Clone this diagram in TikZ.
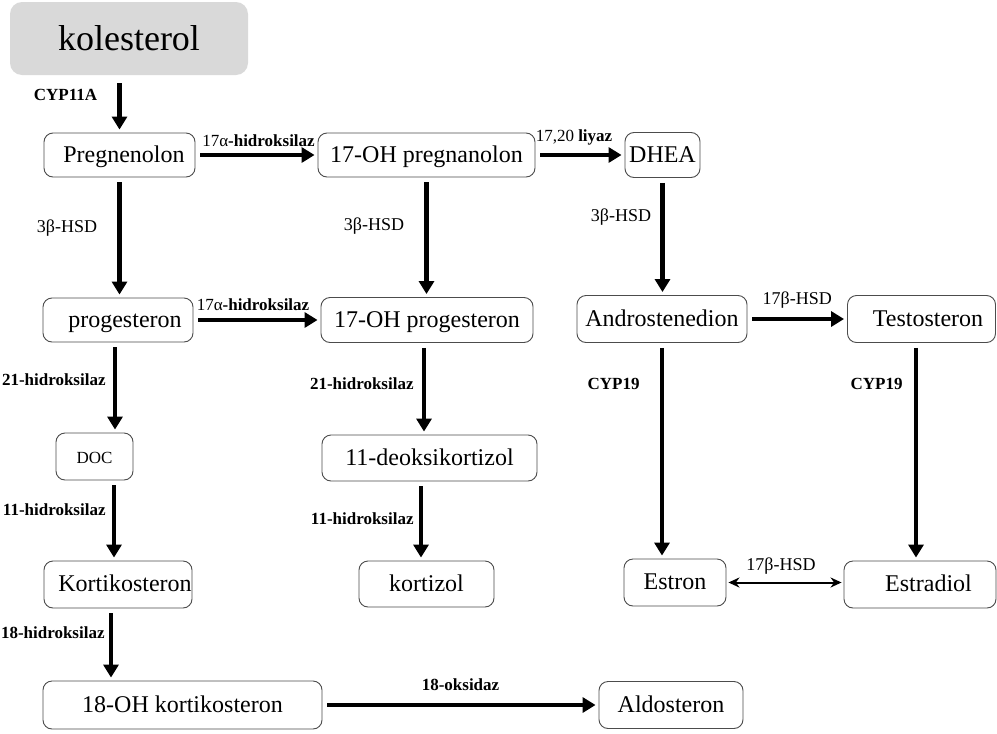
\documentclass[tikz,border=0pt]{standalone}
\usepackage{fontspec}
\setmainfont{Liberation Serif}
\usetikzlibrary{arrows.meta,calc}
\tikzset{
  box/.style={draw=black!70, line width=0.9pt, rounded corners=9pt, fill=white,
    font=\fontsize{24}{27}\selectfont, inner sep=0pt, text height=17pt, text depth=3pt},
  srcbox/.style={fill=black!15, draw=none, rounded corners=12pt,
    font=\fontsize{36}{40}\selectfont, inner sep=0pt},
  lbl/.style={font=\fontsize{17}{19}\selectfont\bfseries, inner sep=1pt},
  lblr/.style={font=\fontsize{18}{20}\selectfont, inner sep=1pt},
  arr/.style={line width=4.8pt, -{Triangle[length=13pt,width=15pt]},
    shorten >=3pt, shorten <=5pt},
  dblarr/.style={line width=2pt,
    {Stealth[length=11pt,width=10pt]}-{Stealth[length=11pt,width=10pt]},
    shorten >=2pt, shorten <=2pt},
}
\begin{document}
\begin{tikzpicture}[x=1pt,y=-1pt]
\useasboundingbox (0,0) rectangle (997,734);

% ---- compounds ----
\node[srcbox, minimum width=238pt, minimum height=73pt] (chol) at (129,38.5) {kolesterol};

\node[box, minimum width=151pt, minimum height=44pt] (preg)   at (119.5,155) {\hspace*{9pt}Pregnenolon};
\node[box, minimum width=217pt, minimum height=44pt] (ohpreg) at (426.5,155) {17-OH pregnanolon};
\node[box, minimum width=75pt,  minimum height=45pt] (dhea)   at (662.5,155) {DHEA};

\node[box, minimum width=150pt, minimum height=44pt] (prog)   at (118,320)   {\hspace*{14pt}progesteron};
\node[box, minimum width=212pt, minimum height=45pt] (ohprog) at (427,320)   {17-OH progesteron};
\node[box, minimum width=170pt, minimum height=47pt] (andro)  at (662,319)   {Androstenedion};
\node[box, minimum width=148pt, minimum height=47pt] (testo)  at (921.5,319) {\hspace*{13pt}Testosteron};

\node[box, minimum width=77pt,  minimum height=47pt, font=\fontsize{17}{19}\selectfont] (doc) at (94.5,456.5) {DOC};
\node[box, minimum width=215pt, minimum height=46pt] (deoks)  at (429.5,458) {11-deoksikortizol};

\node[box, minimum width=148pt, minimum height=47pt] (kort)     at (118,584.5)   {\hspace*{14pt}Kortikosteron};
\node[box, minimum width=135pt, minimum height=46pt] (kortizol) at (426.5,584)   {kortizol};
\node[box, minimum width=102pt, minimum height=47pt] (estron)   at (675,582.5)   {Estron};
\node[box, minimum width=152pt, minimum height=47pt] (estradiol) at (920,584.5)  {\hspace*{17pt}Estradiol};

\node[box, minimum width=279pt, minimum height=48pt] (oh18) at (182.5,705) {18-OH kortikosteron};
\node[box, minimum width=144pt, minimum height=47pt] (aldo) at (671,705)   {Aldosteron};

% ---- reactions ----
\draw[arr, shorten <=8pt] (preg.north |- chol.south) -- (preg.north)
  node[lbl, pos=0.35, anchor=east, xshift=-19pt] {CYP11A};

\draw[arr] (preg.east) -- (ohpreg.west)
  node[lbl, midway, above=5pt, xshift=2pt] {{\mdseries 17α}-hidroksilaz};
\draw[arr] (ohpreg.east) -- (dhea.west)
  node[lbl, midway, above=6pt, xshift=-6pt] {{\mdseries 17,20} liyaz};

\draw[arr] (preg.south) -- (preg.south |- prog.north)
  node[lblr, pos=0.42, anchor=east, xshift=-19pt] {3β-HSD};
\draw[arr] (ohpreg.south) -- (ohpreg.south |- ohprog.north)
  node[lblr, pos=0.41, anchor=east, xshift=-19pt] {3β-HSD};
\draw[arr] (dhea.south) -- (dhea.south |- andro.north)
  node[lblr, pos=0.33, anchor=east, xshift=-8pt] {3β-HSD};

\draw[arr] (prog.east) -- (ohprog.west)
  node[lbl, midway, above=6pt, xshift=-4pt] {{\mdseries 17α}-hidroksilaz};
\draw[arr] (andro.east) -- (testo.west)
  node[lblr, midway, above=7pt] {17β-HSD};

\draw[arr] ($(prog.south)+(-3,0)$) -- ($(prog.south |- doc.north)+(-3,0)$)
  node[lbl, pos=0.41, anchor=east, xshift=-6pt] {21-hidroksilaz};
\draw[arr] ($(ohprog.south)+(-3,0)$) -- ($(ohprog.south |- deoks.north)+(-3,0)$)
  node[lbl, pos=0.45, anchor=east, xshift=-7pt] {21-hidroksilaz};
\draw[arr] (andro.south) -- (andro.south |- estron.north)
  node[lbl, pos=0.19, anchor=east, xshift=-19pt] {CYP19};
\draw[arr] ($(testo.south)+(-5.5,0)$) -- ($(testo.south |- estradiol.north)+(-5.5,0)$)
  node[lbl, pos=0.19, anchor=east, xshift=-10pt] {CYP19};

\draw[arr] ($(kort.north |- doc.south)+(-4,0)$) -- ($(kort.north)+(-4,0)$)
  node[lbl, pos=0.37, anchor=east, xshift=-5pt] {11-hidroksilaz};
\draw[arr] ($(deoks.south)+(-8.5,0)$) -- ($(deoks.south |- kortizol.north)+(-8.5,0)$)
  node[lbl, pos=0.47, anchor=east, xshift=-4pt] {11-hidroksilaz};
\draw[dblarr] (estron.east) -- (estron.east -| estradiol.west)
  node[lblr, midway, above=6pt, xshift=-4pt] {17β-HSD};

\draw[arr] ($(kort.south)+(-7,0)$) -- ($(kort.south |- oh18.north)+(-7,0)$)
  node[lbl, pos=0.33, anchor=east, xshift=-3pt] {18-hidroksilaz};
\draw[arr] (oh18.east) -- (aldo.west)
  node[lbl, midway, above=11pt] {18-oksidaz};
\end{tikzpicture}
\end{document}
